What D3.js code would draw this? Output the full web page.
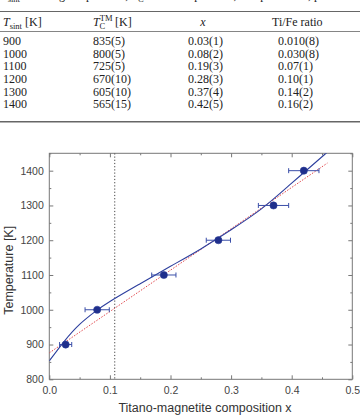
<!DOCTYPE html>
<html>
<head>
<meta charset="utf-8">
<script src="https://cdn.jsdelivr.net/npm/d3@7/dist/d3.min.js"></script>
<style>
  body { margin: 0; background: #fff; }
  svg { display: block; }
  .tbl { font-family: "Liberation Serif", "Times New Roman", serif; font-size: 12px; fill: #222; }
  .tick text { font-family: "Liberation Sans", Arial, sans-serif; font-size: 10.5px; fill: #444; }
  .axtitle { font-family: "Liberation Sans", Arial, sans-serif; font-size: 12.5px; fill: #333; }
</style>
</head>
<body>
<svg id="fig" width="360" height="417"></svg>
<script>
// table contents
const tSint = ["900", "1000", "1100", "1200", "1300", "1400"];
const tCurie = ["835(5)", "800(5)", "725(5)", "670(10)", "605(10)", "565(15)"];
const xComp = ["0.03(1)", "0.08(2)", "0.19(3)", "0.28(3)", "0.37(4)", "0.42(5)"];
const tiFe = ["0.010(8)", "0.030(8)", "0.07(1)", "0.10(1)", "0.14(2)", "0.16(2)"];

// chart data
const pointX = [0.027, 0.079, 0.189, 0.279, 0.370, 0.420];
const pointT = [900, 1000, 1100, 1200, 1300, 1400];
const pointXerr = [0.010, 0.020, 0.020, 0.020, 0.025, 0.025];

// blue fitted curve
const fitX = [0.0, 0.025, 0.05, 0.075, 0.1, 0.15, 0.2, 0.25, 0.3, 0.35, 0.4, 0.45, 0.456];
const fitT = [853, 910, 958, 994, 1024, 1075, 1125, 1175, 1230, 1290, 1364, 1440, 1450];

// red dotted linear fit
const linX = [0.0, 0.459];
const linT = [876, 1422];

const limitX = 0.108; // dotted vertical marker

const xTicks = [0.0, 0.1, 0.2, 0.3, 0.4, 0.5];
const yTicks = [800, 900, 1000, 1100, 1200, 1300, 1400];

const svg = d3.select("#fig");

// ***** TABLE *****
const tbl = svg.append("g").attr("class", "tbl");

// tail of the caption line, mostly cut off at the top
const cap = tbl.append("text").attr("x", 1).attr("y", -1.5);
cap.append("tspan").attr("font-style", "italic").text("T");
cap.append("tspan").attr("dy", 3).attr("font-size", "8.5px").text("sint");
cap.append("tspan").attr("dy", -3).text(" sintering temperature, ");
cap.append("tspan").attr("font-style", "italic").text("T");
cap.append("tspan").attr("dy", 3).attr("font-size", "8.5px").text("C");
cap.append("tspan").attr("dy", -3).text(" Curie temperature, composition x, phase weight and Ti/Fe ratio of samples (·)");

const rule = (yy, w) => tbl.append("line")
    .attr("x1", 0).attr("x2", 360)
    .attr("y1", yy).attr("y2", yy)
    .style("stroke", "#666").style("stroke-width", w);
rule(11.5, 1);
rule(31.5, 0.8);
rule(121.7, 1.4);

const colX = [3, 93, 188, 278];

// header
let h1 = tbl.append("text").attr("x", colX[0]).attr("y", 25.5);
h1.append("tspan").attr("font-style", "italic").text("T");
h1.append("tspan").attr("dy", 3).attr("font-size", "8.5px").text("sint");
h1.append("tspan").attr("dy", -3).text(" [K]");

let h2 = tbl.append("text").attr("x", colX[1]).attr("y", 25.5);
h2.append("tspan").attr("font-style", "italic").text("T");
h2.append("tspan").attr("dy", -4.5).attr("font-size", "8.5px").text("TM");
h2.append("tspan").attr("dx", -13).attr("dy", 8).attr("font-size", "8.5px").text("C");
h2.append("tspan").attr("dx", 7).attr("dy", -3.5).text(" [K]");

tbl.append("text").attr("x", 203).attr("y", 25.5)
    .attr("text-anchor", "middle").attr("font-style", "italic").text("x");
tbl.append("text").attr("x", 272).attr("y", 25.5).text("Ti/Fe ratio");

const rows = tSint.map((d, i) => [d, tCurie[i], xComp[i], tiFe[i]]);
rows.forEach((r, i) => {
    r.forEach((c, j) => {
        tbl.append("text")
            .attr("x", colX[j])
            .attr("y", 45.2 + i * 12.62)
            .text(c);
    });
});

// ***** CHART *****
const pLeft = 49.3, pRight = 352.3, pTop = 153.3, pBottom = 379.3;

const x = d3.scaleLinear().domain([0, 0.5]).range([pLeft, pRight]);
const y = d3.scaleLinear().domain([800, 1450]).range([pBottom, pTop]);

const axisColor = "#777";

// minor + major ticks, inward, on all four sides
const drawAxis = (axis, tx, ty, labels) => {
    const g = svg.append("g").attr("transform", `translate(${tx},${ty})`).call(axis);
    g.select(".domain").remove();
    g.selectAll(".tick line").style("stroke", axisColor);
    if (!labels) g.selectAll(".tick text").remove();
    return g;
};

const xMinor = [0.05, 0.15, 0.25, 0.35, 0.45];
const yMinor = [850, 950, 1050, 1150, 1250, 1350, 1450];

drawAxis(d3.axisBottom(x).tickValues(xTicks).tickFormat(d3.format(".1f")).tickSize(-4).tickPadding(7), 0, pBottom, true);
drawAxis(d3.axisBottom(x).tickValues(xMinor).tickSize(-2), 0, pBottom, false);
drawAxis(d3.axisTop(x).tickValues(xTicks).tickSize(-4), 0, pTop, false);
drawAxis(d3.axisTop(x).tickValues(xMinor).tickSize(-2), 0, pTop, false);
drawAxis(d3.axisLeft(y).tickValues(yTicks).tickFormat(d3.format("d")).tickSize(-4).tickPadding(5.5), pLeft, 0, true);
drawAxis(d3.axisLeft(y).tickValues(yMinor).tickSize(-2), pLeft, 0, false);
drawAxis(d3.axisRight(y).tickValues(yTicks).tickSize(-4), pRight, 0, false);
drawAxis(d3.axisRight(y).tickValues(yMinor).tickSize(-2), pRight, 0, false);

svg.append("rect")
    .attr("x", pLeft).attr("y", pTop)
    .attr("width", pRight - pLeft).attr("height", pBottom - pTop)
    .style("fill", "none").style("stroke", axisColor).style("stroke-width", 1);

svg.append("defs").append("clipPath").attr("id", "plotclip")
    .append("rect")
    .attr("x", pLeft).attr("y", pTop)
    .attr("width", pRight - pLeft).attr("height", pBottom - pTop);

const plot = svg.append("g").attr("clip-path", "url(#plotclip)");

// dotted vertical marker
plot.append("line")
    .attr("x1", x(limitX)).attr("x2", x(limitX))
    .attr("y1", pTop).attr("y2", pBottom)
    .style("stroke", "#444").style("stroke-width", 1)
    .style("stroke-dasharray", "1.2,2");

// red dotted linear fit
const linLine = d3.line().x(d => x(d[0])).y(d => y(d[1]));
plot.append("path")
    .datum(linX.map((d, i) => [d, linT[i]]))
    .attr("d", linLine)
    .style("fill", "none").style("stroke", "#e0474c")
    .style("stroke-width", 1).style("stroke-dasharray", "1.5,1.5");

// blue curve
const fitLine = d3.line().curve(d3.curveNatural).x(d => x(d[0])).y(d => y(d[1]));
plot.append("path")
    .datum(fitX.map((d, i) => [d, fitT[i]]))
    .attr("d", fitLine)
    .style("fill", "none").style("stroke", "#2d3f9e").style("stroke-width", 1.1);

// error bars
const pts = pointX.map((d, i) => ({ x: d, t: pointT[i], e: pointXerr[i] }));
const eb = plot.selectAll("g.eb").data(pts).join("g").attr("class", "eb")
    .style("stroke", "#3a4ea8").style("stroke-width", 1);
eb.append("line")
    .attr("x1", d => x(d.x - d.e)).attr("x2", d => x(d.x + d.e))
    .attr("y1", d => y(d.t)).attr("y2", d => y(d.t));
eb.append("line")
    .attr("x1", d => x(d.x - d.e)).attr("x2", d => x(d.x - d.e))
    .attr("y1", d => y(d.t) - 2.5).attr("y2", d => y(d.t) + 2.5);
eb.append("line")
    .attr("x1", d => x(d.x + d.e)).attr("x2", d => x(d.x + d.e))
    .attr("y1", d => y(d.t) - 2.5).attr("y2", d => y(d.t) + 2.5);

// points
plot.selectAll("circle.pt").data(pts).join("circle")
    .attr("class", "pt")
    .attr("cx", d => x(d.x)).attr("cy", d => y(d.t))
    .attr("r", 3.6)
    .style("fill", "#1f2f8c").style("stroke", "#2a3a96").style("stroke-width", 0.6);

// axis titles
svg.append("text").attr("class", "axtitle")
    .attr("transform", `translate(12.5,${(pTop + pBottom) / 2 + 4}) rotate(-90)`)
    .attr("text-anchor", "middle")
    .text("Temperature [K]");

svg.append("text").attr("class", "axtitle")
    .attr("x", 205).attr("y", 412)
    .attr("text-anchor", "middle")
    .text("Titano-magnetite composition x");
</script>
</body>
</html>
